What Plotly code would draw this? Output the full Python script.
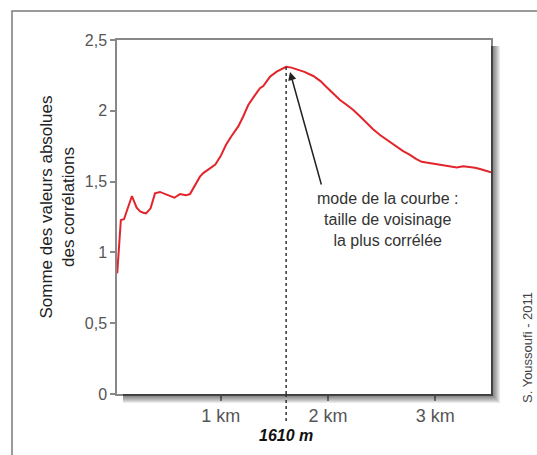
import plotly.graph_objects as go

# ---- data ----
distance_km = [0.036, 0.07, 0.099, 0.14, 0.173, 0.217, 0.25, 0.279, 0.304, 0.347,
               0.388, 0.434, 0.497, 0.568, 0.621, 0.677, 0.714, 0.770, 0.807, 0.838,
               0.90, 0.95, 1.0, 1.05, 1.10, 1.164, 1.21, 1.257, 1.31, 1.366,
               1.397, 1.459, 1.522, 1.57, 1.61, 1.66, 1.708, 1.78, 1.863, 1.93,
               1.988, 2.05, 2.112, 2.17, 2.236, 2.30, 2.361, 2.42, 2.485, 2.56,
               2.64, 2.70, 2.764, 2.82, 2.873, 2.94, 3.013, 3.08, 3.137, 3.20,
               3.26, 3.323, 3.37, 3.417, 3.47, 3.519]
somme_corr = [0.852, 1.229, 1.234, 1.32, 1.398, 1.316, 1.29, 1.28, 1.276, 1.311,
              1.417, 1.427, 1.405, 1.386, 1.412, 1.403, 1.412, 1.488, 1.535, 1.56,
              1.59, 1.62, 1.68, 1.76, 1.82, 1.89, 1.96, 2.041, 2.10, 2.159,
              2.175, 2.24, 2.276, 2.295, 2.311, 2.305, 2.295, 2.275, 2.246, 2.21,
              2.166, 2.12, 2.076, 2.045, 2.006, 1.96, 1.912, 1.87, 1.829, 1.79,
              1.746, 1.715, 1.688, 1.66, 1.64, 1.632, 1.624, 1.615, 1.605, 1.60,
              1.608, 1.603, 1.598, 1.589, 1.578, 1.566]

x_tick_vals = [1, 2, 3]
x_tick_text = ["1 km", "2 km", "3 km"]
y_tick_vals = [0, 0.5, 1, 1.5, 2, 2.5]

mode_km = 1.61
mode_label = "1610 m"
y_title = "Somme des valeurs absolues<br>des corrélations"
note_text = "mode de la courbe :<br>taille de voisinage<br>la plus corrélée"
credit = "S. Youssoufi - 2011"

# ---- layout geometry ----
W, H = 537, 455
ML, MR, MT, MB = 117, 46, 40, 61
PW, PH = W - ML - MR, H - MT - MB
FONT = "Liberation Sans, Arial, sans-serif"

peak_y = max(somme_corr)

fig = go.Figure()
fig.add_trace(go.Scatter(
    x=distance_km, y=somme_corr, mode="lines",
    line=dict(color="#e3242b", width=2),
    hoverinfo="skip", showlegend=False,
))

shapes = []
# outer frame
shapes.append(dict(type="rect", xref="paper", yref="paper",
                   x0=(12 - ML) / PW, x1=(560 - ML) / PW,
                   y0=-(480 - MT - PH) / PH, y1=1 + (MT - 11) / PH,
                   line=dict(color="#7a7a7a", width=1.5), fillcolor="rgba(0,0,0,0)"))
# soft shadow of plot frame (L-shaped bands right and bottom)
s = 6
for k in range(1, 10):
    path = (f"M 1 {1 - s / PH} L {1 + k / PW} {1 - s / PH} L {1 + k / PW} {-k / PH} "
            f"L {s / PW} {-k / PH} L {s / PW} 0 L 1 0 Z")
    shapes.append(dict(type="path", xref="paper", yref="paper", path=path,
                       fillcolor="rgba(0,0,0,0.08)", line=dict(width=0)))
# dotted line at the mode
shapes.append(dict(type="line", xref="x", yref="y", x0=mode_km, x1=mode_km,
                   y0=0, y1=peak_y, line=dict(color="#333", width=1.5, dash="dot")))
shapes.append(dict(type="line", xref="x", yref="paper", x0=mode_km, x1=mode_km,
                   y0=-27 / PH, y1=0, line=dict(color="#333", width=1.5, dash="dot")))

annotations = [
    # arrow
    dict(x=1.646, y=2.274, ax=1.942, ay=1.469, xref="x", yref="y",
         axref="x", ayref="y", text="", showarrow=True, arrowhead=2,
         arrowsize=1.1, arrowwidth=1.5, arrowcolor="#222", standoff=0),
    dict(x=2.559, y=1.229, xref="x", yref="y", text=note_text, showarrow=False,
         font=dict(family=FONT, size=16, color="#333"), align="center",
         xanchor="center", yanchor="middle"),
    dict(x=mode_km, y=-41 / PH, xref="x", yref="paper",
         text=f"<b><i>{mode_label}</i></b>", showarrow=False,
         font=dict(family=FONT, size=16, color="#111"),
         xanchor="center", yanchor="middle"),
    dict(x=-(ML - 56.5) / PW, y=(PH + MT - 207) / PH, xref="paper", yref="paper",
         text=y_title, textangle=-90, showarrow=False,
         font=dict(family=FONT, size=17, color="#222"),
         xanchor="center", yanchor="middle"),
    dict(x=(527 - ML) / PW, y=(PH + MT - 348) / PH, xref="paper", yref="paper",
         text=credit, textangle=-90, showarrow=False,
         font=dict(family=FONT, size=13, color="#444"),
         xanchor="center", yanchor="middle"),
]

fig.update_layout(
    width=W, height=H,
    margin=dict(l=ML, r=MR, t=MT, b=MB, pad=0),
    paper_bgcolor="white", plot_bgcolor="white",
    separators=", ",
    font=dict(family=FONT, color="#555"),
    shapes=shapes, annotations=annotations,
    xaxis=dict(range=[0.034, 3.519], tickvals=x_tick_vals, ticktext=x_tick_text,
               ticks="outside", ticklen=5, tickcolor="#888", tickwidth=1.5,
               showline=True, linecolor="#888", linewidth=1.5, mirror=True,
               showgrid=False, zeroline=False,
               tickfont=dict(family=FONT, size=18, color="#555")),
    yaxis=dict(range=[0, 2.5], tickvals=y_tick_vals,
               ticks="outside", ticklen=5, tickcolor="#888", tickwidth=1.5,
               showline=True, linecolor="#888", linewidth=1.5, mirror=True,
               showgrid=False, zeroline=False,
               tickfont=dict(family=FONT, size=16, color="#555")),
)

fig.write_html("out.html", config={"displayModeBar": False},
               post_script="document.body.style.margin='0';document.body.style.overflow='hidden';")
